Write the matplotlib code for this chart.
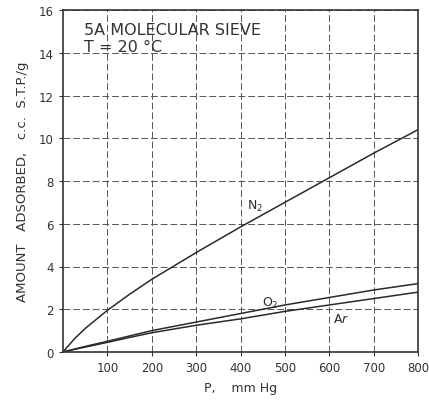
import numpy as np
import matplotlib
matplotlib.use("Agg")
import matplotlib.pyplot as plt

# pressure, mm Hg
p = [0, 25, 50, 100, 150, 200, 300, 400, 500, 600, 700, 800]
# amount adsorbed, c.c. S.T.P./g
n2 = [0, 0.6, 1.1, 1.95, 2.7, 3.4, 4.65, 5.85, 7.0, 8.15, 9.3, 10.4]
o2 = [0, 0.13, 0.26, 0.5, 0.75, 1.0, 1.4, 1.8, 2.2, 2.55, 2.9, 3.2]
ar = [0, 0.12, 0.23, 0.45, 0.68, 0.9, 1.25, 1.55, 1.9, 2.2, 2.5, 2.8]

xticks = [100, 200, 300, 400, 500, 600, 700, 800]
yticks = [0, 2, 4, 6, 8, 10, 12, 14, 16]

ink = "#2a2a2a"

fig = plt.figure(figsize=(4.29, 4.02), dpi=100)
ax = fig.add_axes([63/429, 49/402, 355/429, 342/402])

ax.plot(p, n2, color=ink, lw=1.1)
ax.plot(p, o2, color=ink, lw=1.1)
ax.plot(p, ar, color=ink, lw=1.1)

ax.set_xlim(0, 800)
ax.set_ylim(0, 16)
ax.set_xticks(xticks)
ax.set_yticks(yticks)
ax.grid(True, color="#555555", lw=0.7, linestyle=(0, (7, 3)))
ax.tick_params(labelsize=8.5, length=3, width=0.8, colors="#333333")
for s in ax.spines.values():
    s.set_color("#333333")
    s.set_linewidth(1.2)

ax.text(415, 6.7, r"N$_2$", fontsize=9, color=ink)
ax.text(448, 2.15, r"O$_2$", fontsize=9, color=ink)
ax.text(608, 1.4, r"A$\mathit{r}$", fontsize=9, color=ink)

ax.text(48, 15.1, "5A MOLECULAR SIEVE", fontsize=11.5, color="#333333", va="center")
ax.text(48, 14.3, "T = 20 \u00b0C", fontsize=11.5, color="#333333", va="center")

ax.set_xlabel("P,    mm Hg", fontsize=9, color="#333333", labelpad=5)
ax.set_ylabel("AMOUNT   ADSORBED,   c.c.  S.T.P./g", fontsize=9.5, color="#333333", labelpad=7)

fig.savefig("out.png", dpi=100)
